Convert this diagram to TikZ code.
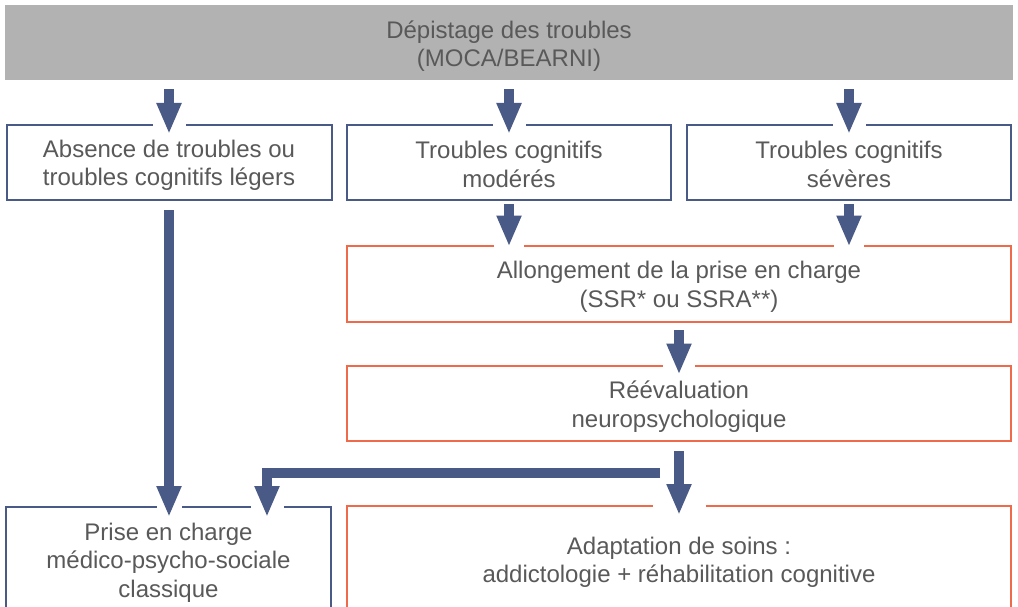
\documentclass[tikz,border=0pt]{standalone}
\usepackage{fontspec}
\setmainfont{Liberation Sans}
\usetikzlibrary{arrows.meta}
\definecolor{bluebd}{HTML}{4A5A87}
\definecolor{orangebd}{HTML}{EE6A4B}
\definecolor{grayfill}{HTML}{B2B2B2}
\definecolor{txt}{HTML}{595959}
\begin{document}
\begin{tikzpicture}[x=1pt,y=-1pt,
 lbl/.style={text=txt, align=center, inner sep=0pt, font=\fontsize{24}{28.5}\selectfont},
 box/.style={draw=bluebd, line width=2pt, fill=white, inner sep=0pt},
 obox/.style={box, draw=orangebd},
 arr/.style={draw=bluebd, line width=10pt, -{Triangle[width=23pt,length=31pt]}},
 gapfill/.style={fill=white, draw=none}
]
\useasboundingbox (0,0) rectangle (1018,607);
\clip (0,0) rectangle (1018,607);
\fill[white] (0,0) rectangle (1018,607);
\node[fill=grayfill, inner sep=0pt, minimum width=1008pt, minimum height=75.5pt,
  label={[lbl, yshift=-3.5pt]center:{Dépistage des troubles\\(MOCA/BEARNI)}}] (top) at (509,42.75) {};
\node[box, minimum width=325pt, minimum height=75pt,
  label={[lbl, yshift=-3pt]center:{Absence de troubles ou\\troubles cognitifs légers}}] (b1) at (169,162.5) {};
\node[box, minimum width=324pt, minimum height=75pt,
  label={[lbl, yshift=-2pt]center:{Troubles cognitifs\\modérés}}] (b2) at (509,162.5) {};
\node[box, minimum width=324pt, minimum height=75pt,
  label={[lbl, yshift=-2pt]center:{Troubles cognitifs\\sévères}}] (b3) at (849,162.5) {};
\node[obox, minimum width=664pt, minimum height=76pt,
  label={[lbl, yshift=-3.5pt]center:{Allongement de la prise en charge\\(SSR* ou SSRA**)}}] (al) at (679,283.5) {};
\node[obox, minimum width=664pt, minimum height=75pt,
  label={[lbl, yshift=-3pt]center:{Réévaluation\\neuropsychologique}}] (re) at (679,403.5) {};
\node[box, minimum width=325pt, minimum height=108pt,
  label={[lbl, yshift=-2pt]center:{Prise en charge\\médico-psycho-sociale\\classique}}] (pr) at (168.5,560.5) {};
\node[obox, minimum width=664pt, minimum height=108pt,
  label={[lbl, yshift=-3pt]center:{Adaptation de soins :\\addictologie + réhabilitation cognitive}}] (ad) at (679,559.5) {};
% gaps in borders around arrow heads
\fill[gapfill] ([xshift=-16.5pt,yshift=-2.5pt]b1.north) rectangle ([xshift=16.5pt,yshift=2.5pt]b1.north);
\fill[gapfill] ([xshift=-16.5pt,yshift=-2.5pt]b2.north) rectangle ([xshift=16.5pt,yshift=2.5pt]b2.north);
\fill[gapfill] ([xshift=-16.5pt,yshift=-2.5pt]b3.north) rectangle ([xshift=16.5pt,yshift=2.5pt]b3.north);
\coordinate (alA) at (b2.south |- al.north);
\coordinate (alB) at (b3.south |- al.north);
\fill[gapfill] ([xshift=-15pt,yshift=-2.5pt]alA) rectangle ([xshift=15pt,yshift=2.5pt]alA);
\fill[gapfill] ([xshift=-15pt,yshift=-2.5pt]alB) rectangle ([xshift=15pt,yshift=2.5pt]alB);
\fill[gapfill] ([xshift=-16pt,yshift=-2.5pt]re.north) rectangle ([xshift=16pt,yshift=2.5pt]re.north);
\fill[gapfill] ([xshift=-26.5pt,yshift=-2.5pt]ad.north) rectangle ([xshift=26.5pt,yshift=2.5pt]ad.north);
\coordinate (c) at (267,473);
\coordinate (br) at (660,473);
\coordinate (prB) at (c |- pr.north);
\coordinate (prA) at (b1.south |- pr.north);
\fill[gapfill] ([xshift=-12.5pt,yshift=-2.5pt]prA) rectangle ([xshift=12.5pt,yshift=2.5pt]prA);
\fill[gapfill] ([xshift=-16.5pt,yshift=-2.5pt]prB) rectangle ([xshift=16.5pt,yshift=2.5pt]prB);
% arrows
\draw[arr, shorten <=8.5pt, shorten >=-10pt] (top.south -| b1.north) -- (b1.north);
\draw[arr, shorten <=8.5pt, shorten >=-10pt] (top.south -| b2.north) -- (b2.north);
\draw[arr, shorten <=8.5pt, shorten >=-10pt] (top.south -| b3.north) -- (b3.north);
\draw[arr, shorten <=3pt, shorten >=-2pt] (b2.south) -- (alA);
\draw[arr, shorten <=3pt, shorten >=-2pt] (b3.south) -- (alB);
\draw[arr, shorten <=7.5pt, shorten >=-9.5pt] (al.south) -- (re.north);
\draw[arr, shorten <=9pt, shorten >=-10.5pt] (re.south) -- (ad.north);
\draw[arr, shorten <=9pt, shorten >=-11.5pt] (b1.south) -- (prA);
\draw[arr, shorten >=-11.5pt] (br) -- (c) -- (prB);
\end{tikzpicture}
\end{document}
